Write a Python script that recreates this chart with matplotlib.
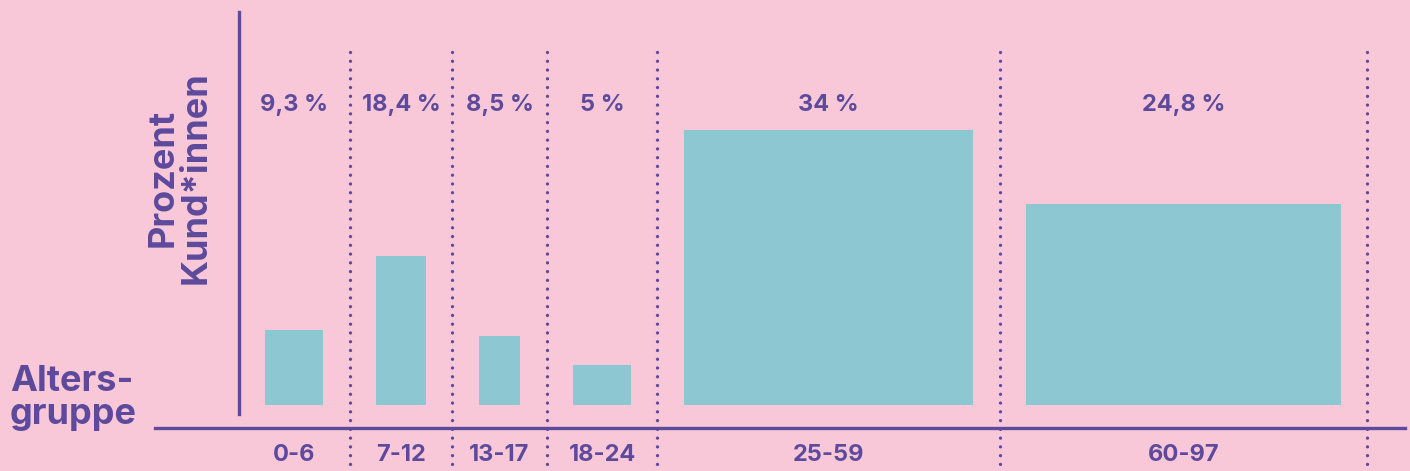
import matplotlib
matplotlib.use("Agg")
import matplotlib.pyplot as plt
from matplotlib.lines import Line2D
import matplotlib.transforms as mtransforms
import numpy as np

# ---- data ----
groups = ['0-6', '7-12', '13-17', '18-24', '25-59', '60-97']
years = [7, 6, 5, 7, 35, 38]          # span of each age group (bar width)
percent = [9.3, 18.4, 8.5, 5, 34, 24.8]

BG = '#f8c8d8'
PURPLE = '#5d4a9c'
BAR = '#8dc7d2'

plt.rcParams['lines.scale_dashes'] = False
FONT = ['Inter', 'DejaVu Sans']

W, H = 1410, 471
fig = plt.figure(figsize=(W / 100, H / 100), dpi=100, facecolor=BG)

pad = 6.4  # gap per column in year-units
edges = np.concatenate([[0], np.cumsum(np.array(years) + pad)])
left_px, scale = 239, 8.27
ax_w_px = edges[-1] * scale
bottom_px, top_px = 66, 471
ax = fig.add_axes([left_px / W, bottom_px / H, ax_w_px / W, (top_px - bottom_px) / H])
ax.set_xlim(0, edges[-1])
ax.set_ylim(0, (top_px - bottom_px) / 8.1)
ax.set_axis_off()
ax.patch.set_alpha(0)

lefts = edges[:-1] + pad / 2
ax.bar(lefts, percent, width=years, align='edge', color=BAR, zorder=2)

trans = mtransforms.blended_transform_factory(ax.transData, ax.transAxes)
ax_h = top_px - bottom_px
for xe in edges[1:]:
    ax.add_line(Line2D([xe, xe], [(419 - bottom_px) / ax_h, -bottom_px / ax_h],
                       transform=trans, color=PURPLE, lw=2.4,
                       linestyle=(0, (0.01, 6.3)), dash_capstyle='round',
                       clip_on=False, zorder=1))

centers = (edges[:-1] + edges[1:]) / 2
for c, p, g in zip(centers, percent, groups):
    lab = f"{p:g}".replace('.', ',') + " %"
    ax.text(c, (366 - bottom_px) / ax_h, lab, transform=trans, ha='center', va='center',
            color=PURPLE, fontsize=17, fontweight='bold', family=FONT)
    ax.text(c, (16 - bottom_px) / ax_h, g, transform=trans, ha='center', va='center',
            color=PURPLE, fontsize=17, fontweight='bold', family=FONT)

# axis lines
fig.add_artist(Line2D([155 / W, 1405 / W], [43 / H, 43 / H], transform=fig.transFigure,
                      color=PURPLE, lw=2.4))
fig.add_artist(Line2D([239 / W, 239 / W], [57 / H, 459 / H], transform=fig.transFigure,
                      color=PURPLE, lw=2.4))

# axis titles
fig.text(10 / W, (471 - 398) / H, "Alters-\ngruppe", ha='left', va='center',
         color=PURPLE, fontsize=26, fontweight='bold', family=FONT, linespacing=1.0)
fig.text(180 / W, (471 - 178) / H, "Prozent\nKund*innen", ha='center', va='center',
         rotation=90, color=PURPLE, fontsize=26, fontweight='bold', family=FONT,
         linespacing=1.0, multialignment='center')

fig.savefig('out.png', dpi=100, facecolor=BG)
